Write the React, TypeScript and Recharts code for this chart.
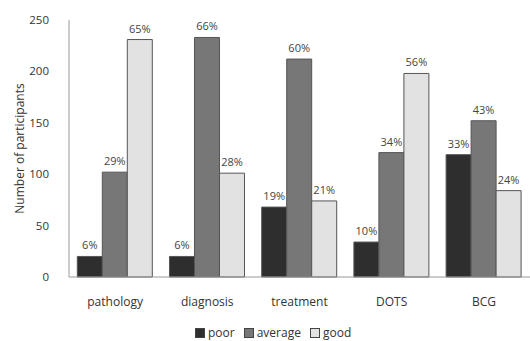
import { BarChart, Bar, XAxis, YAxis, LabelList } from 'recharts';

const topics = ['pathology', 'diagnosis', 'treatment', 'DOTS', 'BCG'];
const poor = [20, 20, 68, 34, 119];
const average = [102, 233, 212, 121, 152];
const good = [231, 101, 74, 198, 84];
const poorPct = ['6%', '6%', '19%', '10%', '33%'];
const averagePct = ['29%', '66%', '60%', '34%', '43%'];
const goodPct = ['65%', '28%', '21%', '56%', '24%'];
const yTicks = [0, 50, 100, 150, 200, 250];

const data = topics.map((t, i) => ({
    topic: t,
    poor: poor[i],
    average: average[i],
    good: good[i],
    poorPct: poorPct[i],
    averagePct: averagePct[i],
    goodPct: goodPct[i],
}));

const font = '"Open Sans", "Noto Sans", sans-serif';

const series = [
    { key: 'poor', name: 'poor', fill: '#2e2e2e' },
    { key: 'average', name: 'average', fill: '#777777' },
    { key: 'good', name: 'good', fill: '#e2e2e2' },
];

function LegendBox() {
    return (
        <div style={{ position: 'absolute', left: 195, top: 324, display: 'flex', gap: 9, fontFamily: font, fontSize: 12, color: '#333' }}>
            {series.map((s) => (
                <span key={s.key} style={{ display: 'flex', alignItems: 'center', gap: 3 }}>
                    <span style={{ width: 8, height: 8, background: s.fill, border: '1px solid #444', display: 'inline-block' }} />
                    {s.name}
                </span>
            ))}
        </div>
    );
}

export default function App() {
    return (
        <div style={{ position: 'absolute', left: 0, top: 0, width: 530, height: 341, background: '#fff' }}>
            <BarChart width={530} height={341} data={data} margin={{ top: 20, right: 0, bottom: 0, left: 0 }} barGap={0} barCategoryGap="9%">
                <XAxis dataKey="topic" tickLine={false} axisLine={{ stroke: '#999' }} tick={{ fill: '#333', fontSize: 12, fontFamily: font }} tickMargin={14} height={64} />
                <YAxis domain={[0, 250]} ticks={yTicks} width={69} tickLine={false} axisLine={{ stroke: '#999' }} tick={{ fill: '#333', fontSize: 11.5, fontFamily: font }} tickMargin={14}
                    label={{ value: 'Number of participants', angle: -90, position: 'insideLeft', offset: 20, style: { fill: '#333', fontSize: 12, fontFamily: font, textAnchor: 'middle' } }} />
                {series.map((s) => (
                    <Bar key={s.key} dataKey={s.key} name={s.name} fill={s.fill} stroke="#555" strokeWidth={1} isAnimationActive={false}>
                        <LabelList dataKey={s.key + 'Pct'} position="top" offset={7} style={{ fill: '#444', fontSize: 11, fontFamily: font }} />
                    </Bar>
                ))}
            </BarChart>
            <LegendBox />
        </div>
    );
}
